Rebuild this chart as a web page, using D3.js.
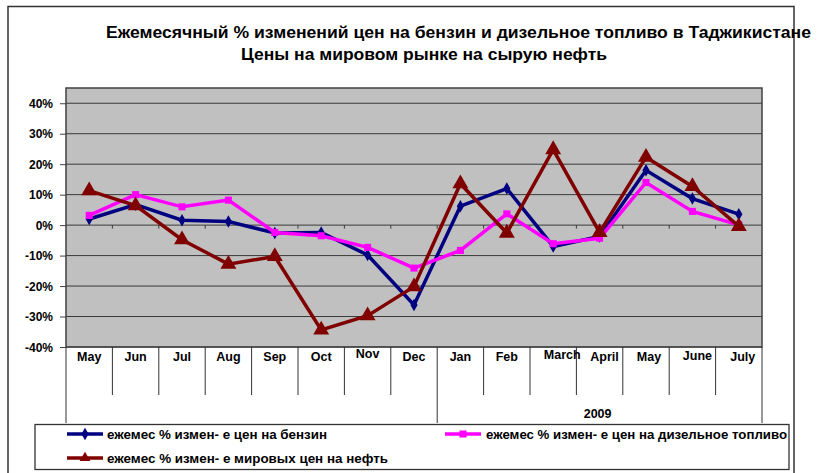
<!DOCTYPE html>
<html>
<head>
<meta charset="utf-8">
<script src="https://cdn.jsdelivr.net/npm/d3@7"></script>
<style>
  html, body { margin: 0; padding: 0; background: #ffffff; }
  svg { display: block; font-family: "Liberation Sans", Arial, sans-serif; }
</style>
</head>
<body>
<svg id="chart" width="820" height="473"></svg>
<script>
// ---------------- data ----------------
const categories = ["May","Jun","Jul","Aug","Sep","Oct","Nov","Dec","Jan","Feb","March","April","May","June","July"];
const yearGroups = [
  { label: "", start: 0, end: 8 },
  { label: "2009", start: 8, end: 15 }
];
const gasoline = [2.0, 6.7, 1.6, 1.2, -2.6, -2.4, -9.8, -26.2, 6.2, 12.0, -7.0, -3.7, 18.0, 8.7, 3.6];
const diesel   = [3.2, 10.0, 6.0, 8.2, -2.4, -3.5, -7.3, -14.1, -8.3, 3.7, -6.1, -4.3, 14.0, 4.5, 0.1];
const oil      = [11.3, 6.4, -4.8, -12.8, -10.3, -34.4, -29.7, -20.2, 13.6, -2.6, 24.8, -2.4, 22.3, 12.7, -0.4];
const yTicks = [-40, -30, -20, -10, 0, 10, 20, 30, 40];
const titleLines = [
  "Ежемесячный % изменений цен на бензин и дизельное топливо в Таджикистане",
  "Цены на мировом рынке на сырую нефть"
];
const seriesNames = [
  "ежемес % измен- е цен на бензин",
  "ежемес % измен- е цен на дизельное топливо",
  "ежемес % измен- е мировых цен на нефть"
];

// ---------------- layout ----------------
const svg = d3.select("#chart");
const plot = { left: 66, right: 762, top: 88, bottom: 347 };

const x = d3.scaleBand().domain(d3.range(categories.length)).range([plot.left, plot.right]).paddingInner(0).paddingOuter(0);
const y = d3.scaleLinear().domain([-40, 45]).range([plot.bottom, plot.top]);
const cx = i => x(i) + x.bandwidth() / 2;

// outer frame
svg.append("rect").attr("x", 8).attr("y", 6.5).attr("width", 786).attr("height", 480)
  .attr("fill", "#fff").attr("stroke", "#333").attr("stroke-width", 1.5);

// titles
const t1 = svg.append("text").attr("x", 106).attr("y", 38).attr("font-size", 16).attr("font-weight", "bold")
  .attr("fill", "#000").attr("textLength", 705).attr("lengthAdjust", "spacingAndGlyphs").text(titleLines[0]);
svg.append("text").attr("x", 424).attr("y", 60).attr("text-anchor", "middle").attr("font-size", 16).attr("font-weight", "bold")
  .attr("fill", "#000").attr("textLength", 366).attr("lengthAdjust", "spacingAndGlyphs").text(titleLines[1]);

// plot background
svg.append("rect").attr("x", plot.left).attr("y", plot.top)
  .attr("width", plot.right - plot.left).attr("height", plot.bottom - plot.top)
  .attr("fill", "#c0c0c0");

// gridlines
svg.append("g").selectAll("line").data(yTicks).join("line")
  .attr("x1", plot.left).attr("x2", plot.right)
  .attr("y1", d => y(d)).attr("y2", d => y(d))
  .attr("stroke", "#3a3a3a").attr("stroke-width", 1);

// zero-line category ticks
svg.append("g").selectAll("line").data(d3.range(1, categories.length)).join("line")
  .attr("x1", d => x(d)).attr("x2", d => x(d))
  .attr("y1", y(0)).attr("y2", y(0) + 3.5)
  .attr("stroke", "#3a3a3a").attr("stroke-width", 1);

// plot border
svg.append("rect").attr("x", plot.left).attr("y", plot.top)
  .attr("width", plot.right - plot.left).attr("height", plot.bottom - plot.top)
  .attr("fill", "none").attr("stroke", "#404040").attr("stroke-width", 1.5);

// y axis
const yAxis = d3.axisLeft(y).tickValues(yTicks).tickSize(6).tickFormat(d => d + "%");
const gy = svg.append("g").attr("transform", `translate(${plot.left},0)`).call(yAxis);
gy.select(".domain").remove();
gy.selectAll(".tick line").attr("stroke", "#404040");
gy.selectAll(".tick text").attr("font-size", 12).attr("font-weight", "bold").attr("fill", "#000")
  .attr("font-family", "'Liberation Sans', Arial, sans-serif").attr("x", -13).attr("dy", "0.35em");

// category label area
const labelBottom = 395, yearBottom = 423;
svg.append("g").selectAll("line").data(d3.range(1, categories.length)).join("line")
  .attr("x1", d => x(d)).attr("x2", d => x(d))
  .attr("y1", plot.bottom).attr("y2", d => yearGroups.some(g => g.start === d) ? yearBottom : labelBottom)
  .attr("stroke", "#333").attr("stroke-width", 1);
svg.append("line").attr("x1", plot.left).attr("x2", plot.left).attr("y1", plot.bottom).attr("y2", yearBottom)
  .attr("stroke", "#333").attr("stroke-width", 1);
svg.append("line").attr("x1", plot.right).attr("x2", plot.right).attr("y1", plot.bottom).attr("y2", yearBottom)
  .attr("stroke", "#333").attr("stroke-width", 1);

const labelShift = { 10: [9, -2], 11: [5, 0], 6: [0, -3], 13: [5, -1], 14: [4, 0], 12: [3, 0] };
svg.append("g").selectAll("text").data(categories).join("text")
  .attr("x", (d, i) => cx(i) + (labelShift[i] ? labelShift[i][0] : 0))
  .attr("y", (d, i) => 360.5 + (labelShift[i] ? labelShift[i][1] : 0))
  .attr("text-anchor", "middle").attr("font-size", 12.5).attr("font-weight", "bold").attr("fill", "#000")
  .text(d => d);

svg.append("g").selectAll("text").data(yearGroups).join("text")
  .attr("x", g => (x(g.start) + x(g.end - 1) + x.bandwidth()) / 2 - 2)
  .attr("y", 418).attr("text-anchor", "middle").attr("font-size", 12.5).attr("font-weight", "bold")
  .attr("fill", "#000").text(g => g.label);

// series
const series = [
  { name: seriesNames[0], values: gasoline, color: "#000080", marker: "diamond" },
  { name: seriesNames[1], values: diesel,   color: "#ff00ff", marker: "square" },
  { name: seriesNames[2], values: oil,      color: "#800000", marker: "triangle" }
];
const symbolFor = m => m === "diamond" ? d3.symbol(d3.symbolDiamond, 45)
  : m === "square" ? d3.symbol(d3.symbolSquare, 50) : d3.symbol(d3.symbolTriangle, 110);

const line = d3.line().x((d, i) => cx(i)).y(d => y(d));
series.forEach(s => {
  const g = svg.append("g");
  g.append("path").datum(s.values).attr("d", line)
    .attr("fill", "none").attr("stroke", s.color).attr("stroke-width", 3.5).attr("stroke-linejoin", "miter");
  g.selectAll("path.m").data(s.values).join("path").attr("class", "m")
    .attr("transform", (d, i) => `translate(${cx(i)},${y(d)})`)
    .attr("d", symbolFor(s.marker)()).attr("fill", s.color);
});

// legend
svg.append("rect").attr("x", 35).attr("y", 424.5).attr("width", 754).attr("height", 45)
  .attr("fill", "#fff").attr("stroke", "#333").attr("stroke-width", 1.3);
const legendItems = [
  { s: series[0], lx: 67, ly: 434, tx: 107, ty: 438.5, w: 220 },
  { s: series[1], lx: 445, ly: 434, tx: 486, ty: 438.5, w: 301 },
  { s: series[2], lx: 67, ly: 458, tx: 107, ty: 463, w: 281 }
];
legendItems.forEach(it => {
  svg.append("line").attr("x1", it.lx).attr("x2", it.lx + 36).attr("y1", it.ly).attr("y2", it.ly)
    .attr("stroke", it.s.color).attr("stroke-width", 3.5);
  svg.append("path").attr("transform", `translate(${it.lx + 18},${it.ly})`)
    .attr("d", (it.s.marker === "triangle" ? d3.symbol(d3.symbolTriangle, 50) : symbolFor(it.s.marker))())
    .attr("fill", it.s.color);
  svg.append("text").attr("x", it.tx).attr("y", it.ty).attr("font-size", 12.5).attr("font-weight", "bold")
    .attr("fill", "#000").attr("textLength", it.w).attr("lengthAdjust", "spacingAndGlyphs").text(it.s.name);
});
</script>
</body>
</html>
